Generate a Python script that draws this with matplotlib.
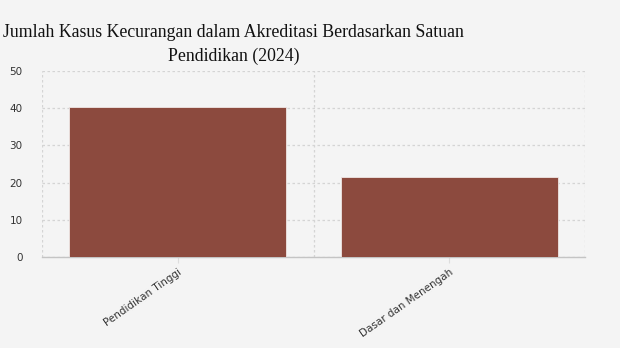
import matplotlib.pyplot as plt
import numpy as np

categories = ['Pendidikan Tinggi', 'Dasar dan Menengah']
cases = [40.4, 21.6]
yticks = [0, 10, 20, 30, 40, 50]

fig = plt.figure(figsize=(6.2, 3.48), dpi=100)
fig.patch.set_facecolor('#f4f4f4')
ax = fig.add_axes([42/620, 1 - 257/348, 543/620, 186/348])
ax.set_facecolor('#f4f4f4')

x = np.arange(len(categories))
ax.bar(x, cases, width=0.8, color='#8c4a3e', edgecolor='#f0e6e4', linewidth=0.6, zorder=3)

ax.set_xlim(-0.5, len(categories) - 0.5)
ax.set_ylim(0, 50)
ax.set_yticks(yticks)
ax.set_xticks(x)
ax.set_xticklabels(categories, rotation=35, ha='right', rotation_mode='anchor',
                   fontsize=7.5, color='#333333')
ax.set_xticks(np.arange(len(categories) + 1) - 0.5, minor=True)
ax.tick_params(axis='y', length=0, labelsize=7.5, labelcolor='#333333', pad=14)
ax.tick_params(axis='x', which='major', length=4, color='#dddddd', pad=3)
ax.tick_params(axis='x', which='minor', length=0)

ax.grid(axis='y', which='major', linestyle=(0, (2, 2)), color='#d4d4d4', linewidth=0.9, zorder=0)
ax.grid(axis='x', which='minor', linestyle=(0, (2, 2)), color='#d4d4d4', linewidth=0.9, zorder=0)
for side in ['top', 'right', 'left']:
    ax.spines[side].set_visible(False)
ax.spines['bottom'].set_color('#c4c4c4')
ax.spines['bottom'].set_linestyle((0, (3, 1)))
ax.spines['bottom'].set_linewidth(1.0)

fig.text(0.377, 0.93, 'Jumlah Kasus Kecurangan dalam Akreditasi Berdasarkan Satuan\nPendidikan (2024)',
         ha='center', va='top', fontsize=12.8, family='Liberation Serif',
         color='#111111', linespacing=1.45)

fig.savefig('out.png', dpi=100, facecolor=fig.get_facecolor())
